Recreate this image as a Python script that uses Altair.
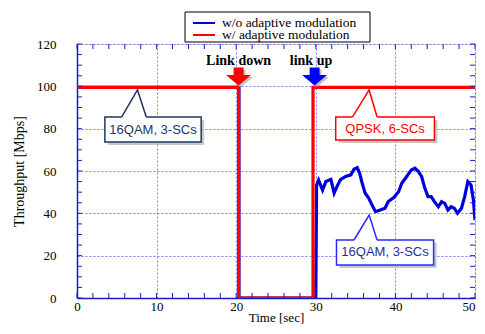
import altair as alt
import pandas as pd

# ---------------- data ----------------
# w/ adaptive modulation (red)
t_red = [0, 20.3, 20.3, 29.65, 29.65, 50]
v_red = [99.5, 99.5, 0, 0, 99.5, 99.5]

# w/o adaptive modulation (blue)
t_blue = [0, 20.35, 20.35, 30.0, 30.1, 30.35, 30.85, 31.26, 31.9, 32.3, 32.7, 33.1, 33.75, 34.4,
          34.8, 35.2, 35.5, 35.8, 36.2, 36.65, 37.05, 37.5, 38.1, 38.7, 39.1, 39.8, 40.4, 40.8,
          41.4, 42.0, 42.45, 42.9, 43.3, 43.7, 44.1, 44.5, 44.9, 45.4, 45.8, 46.2, 46.6, 47.0,
          47.4, 47.8, 48.3, 48.7, 49.1, 49.5, 49.8, 50.0]
v_blue = [99.5, 99.5, 0, 0, 53.4, 55.7, 51, 55, 56, 49.5, 53, 55.9, 57.4, 58.2,
          60.8, 61.6, 59, 54.6, 49.5, 47.2, 44, 40.8, 41.6, 42.4, 45.6, 47.5, 50.2, 54.2,
          57.3, 60.5, 61.3, 59.7, 57.3, 51.8, 47.9, 47.9, 45.5, 43.1, 45.5, 44.7, 41.6, 43.1,
          42.4, 40, 42.4, 47.9, 55, 53.4, 46.3, 36.8]

series_names = ["w/o adaptive modulation", "w/ adaptive modulation"]
series_colors = ["#0000dd", "#ff0000"]

x_major = [0, 10, 20, 30, 40, 50]
y_major = [0, 20, 40, 60, 80, 100, 120]
x_minor = list(range(0, 51, 2))
y_minor = list(range(0, 121, 5))

# callouts: label, box x/x2/y/y2, tail (base-left, tip, base-right), colours
call_labels = ["16QAM, 3-SCs", "QPSK, 6-SCs", "16QAM, 3-SCs"]
call_x1 = [3.5, 32.5, 32.6]
call_x2 = [15.6, 44.9, 44.8]
call_y1 = [73.7, 74.6, 15.6]
call_y2 = [85.5, 85.5, 27.4]
call_tx = [9.55, 38.7, 38.7]
call_ty = [79.6, 80.0, 21.5]
tail_bl = [5.6, 34.6, 34.8]
tail_tipx = [7.6, 36.7, 36.7]
tail_tipy = [98.3, 98.3, 39.2]
tail_br = [8.7, 37.7, 37.7]
call_stroke = ["#203864", "#ff0000", "#2a2aff"]
call_text = ["#203864", "#ff0000", "#1f2f9c"]

# link events
ev_labels = ["Link down", "link up"]
ev_text_t = [20.3, 29.4]
ev_arrow_t = [20.3, 29.85]
ev_colors = ["#ff0000", "#0000ff"]

W, H = 398, 254
SERIF = "Liberation Serif"
SANS = "Liberation Sans"
GRID = "#5a5aff"
FRAME = "#1a1acc"

df_red = pd.DataFrame({"t": t_red, "v": v_red, "s": series_names[1]})
df_blue = pd.DataFrame({"t": t_blue, "v": v_blue, "s": series_names[0]})

xs = alt.Scale(domain=[0, 50], nice=False, zero=False)
ys = alt.Scale(domain=[0, 120], nice=False)
cscale = alt.Scale(domain=series_names, range=series_colors)

x_axis = alt.Axis(values=x_major, format="d", grid=True, gridColor=GRID, gridDash=[2, 2],
                  gridWidth=0.8, ticks=False, tickSize=0, labelPadding=2, labelFlush=False,
                  labelAlign={"expr": "datum.value == 50 ? 'right' : 'center'"},
                  labelFont=SERIF, labelFontSize=13, labelColor="black",
                  domainColor=FRAME, domainWidth=1.5,
                  title="Time [sec]", titleFont=SERIF, titleFontSize=13,
                  titleFontWeight="normal", titleColor="black", titlePadding=-2)
y_axis = alt.Axis(values=y_major, format="d", grid=True, gridColor=GRID, gridDash=[2, 2],
                  gridWidth=0.8, ticks=False, tickSize=0, labelPadding=21, labelFlush=False,
                  labelFont=SERIF, labelFontSize=13, labelColor="black",
                  domainColor=FRAME, domainWidth=1.5,
                  title="Throughput [Mbps]", titleFont=SERIF, titleFontSize=14,
                  titleFontWeight="normal", titleColor="black", titlePadding=10)

# base layer carrying axes
base_blue = alt.Chart(df_blue).mark_line(strokeWidth=3.2, clip=True).encode(
    x=alt.X("t:Q", scale=xs, axis=x_axis),
    y=alt.Y("v:Q", scale=ys, axis=y_axis),
    color=alt.Color("s:N", scale=cscale, legend=None),
    order=alt.Order("idx:Q"),
).transform_window(idx="row_number()")

line_red = alt.Chart(df_red).mark_line(strokeWidth=3.2, clip=True).encode(
    x=alt.X("t:Q", scale=xs),
    y=alt.Y("v:Q", scale=ys),
    color=alt.Color("s:N", scale=cscale, legend=None),
    order=alt.Order("idx:Q"),
).transform_window(idx="row_number()")

# inward ticks on all four sides
dfx = pd.DataFrame({"t": x_minor})
dfy = pd.DataFrame({"v": y_minor})
tk = dict(color=FRAME, strokeWidth=1)
ticks_b = alt.Chart(dfx).mark_rule(**tk).encode(x=alt.X("t:Q", scale=xs), y=alt.value(H), y2=alt.value(H - 5))
ticks_t = alt.Chart(dfx).mark_rule(**tk).encode(x=alt.X("t:Q", scale=xs), y=alt.value(0), y2=alt.value(5))
ticks_l = alt.Chart(dfy).mark_rule(**tk).encode(y=alt.Y("v:Q", scale=ys), x=alt.value(0), x2=alt.value(5))
ticks_r = alt.Chart(dfy).mark_rule(**tk).encode(y=alt.Y("v:Q", scale=ys), x=alt.value(W), x2=alt.value(W - 5))

# callouts
df_call = pd.DataFrame({"label": call_labels, "x1": call_x1, "x2": call_x2, "y1": call_y1,
                        "y2": call_y2, "tx": call_tx, "ty": call_ty, "bl": tail_bl, "br": tail_br,
                        "stroke": call_stroke, "tcol": call_text, "k": [0, 1, 2]})
tail_rows = []
for i in range(3):
    tail_rows += [{"k": i, "o": 0, "x": tail_bl[i], "y": call_y2[i], "c": call_stroke[i]},
                  {"k": i, "o": 1, "x": tail_tipx[i], "y": tail_tipy[i], "c": call_stroke[i]},
                  {"k": i, "o": 2, "x": tail_br[i], "y": call_y2[i], "c": call_stroke[i]}]
df_tail = pd.DataFrame(tail_rows)

box_enc = dict(x=alt.X("x1:Q", scale=xs), x2="x2:Q", y=alt.Y("y1:Q", scale=ys), y2="y2:Q")
shadow = alt.Chart(df_call).mark_rect(color="#b0b0b0", opacity=0.7, xOffset=3, yOffset=3,
                                      x2Offset=3, y2Offset=3).encode(**box_enc)
box = alt.Chart(df_call).mark_rect(fill="white", strokeWidth=1.5).encode(
    stroke=alt.Stroke("stroke:N", scale=None), **box_enc)
erase = alt.Chart(df_call).mark_rule(color="white", strokeWidth=3).encode(
    x=alt.X("bl:Q", scale=xs), x2="br:Q", y=alt.Y("y2:Q", scale=ys))
tail = alt.Chart(df_tail).mark_line(strokeWidth=1.5).encode(
    x=alt.X("x:Q", scale=xs), y=alt.Y("y:Q", scale=ys),
    detail="k:N", order="o:Q", stroke=alt.Stroke("c:N", scale=None))
call_txt = alt.Chart(df_call).mark_text(font=SANS, fontSize=13, align="center", baseline="middle").encode(
    x=alt.X("tx:Q", scale=xs), y=alt.Y("ty:Q", scale=ys), text="label:N",
    color=alt.Color("tcol:N", scale=None))

# link events: arrows + labels
df_ev = pd.DataFrame({"label": ev_labels, "tt": ev_text_t, "ta": ev_arrow_t, "c": ev_colors,
                      "yt": [111.8, 111.8], "ya": [104.6, 104.6]})
ARROW = "M-0.4,-0.72L0.4,-0.72L0.4,-0.12L1,-0.12L0,0.72L-1,-0.12L-0.4,-0.12Z"
arrow_sh = alt.Chart(df_ev).mark_point(shape=ARROW, size=625, filled=True, color="#999999",
                                       opacity=0.6, xOffset=2, yOffset=2, strokeWidth=0).encode(
    x=alt.X("ta:Q", scale=xs), y=alt.Y("ya:Q", scale=ys))
arrow = alt.Chart(df_ev).mark_point(shape=ARROW, size=625, filled=True, opacity=1, strokeWidth=0).encode(
    x=alt.X("ta:Q", scale=xs), y=alt.Y("ya:Q", scale=ys), fill=alt.Fill("c:N", scale=None))
ev_txt = alt.Chart(df_ev).mark_text(font=SERIF, fontSize=14, fontWeight="bold", align="center",
                                    baseline="middle", color="black").encode(
    x=alt.X("tt:Q", scale=xs), y=alt.Y("yt:Q", scale=ys), text="label:N")

# legend box (drawn by hand above the plot)
df_leg = pd.DataFrame({"s": series_names, "yy": [-21, -9]})
one = pd.DataFrame({"a": [0]})
leg_box = alt.Chart(one).mark_rect(fill="white", stroke="black", strokeWidth=1).encode(
    x=alt.value(108), x2=alt.value(293), y=alt.value(-32), y2=alt.value(-2))
leg_sym = alt.Chart(df_leg).mark_rule(strokeWidth=2).encode(
    x=alt.value(116), x2=alt.value(138), y=alt.Y("yy:Q", scale=None),
    color=alt.Color("s:N", scale=cscale, legend=None))
leg_txt = alt.Chart(df_leg).mark_text(font=SERIF, fontSize=13.5, align="left", baseline="middle",
                                      color="black").encode(
    x=alt.value(145), y=alt.Y("yy:Q", scale=None), text="s:N")

chart = alt.layer(
    base_blue, line_red, ticks_b, ticks_t, ticks_l, ticks_r,
    shadow, box, erase, tail, call_txt,
    arrow_sh, arrow, ev_txt,
    leg_box, leg_sym, leg_txt,
).resolve_scale(color="shared").properties(
    width=W, height=H,
    autosize=alt.AutoSizeParams(type="none"),
    padding={"left": 69, "top": 36, "right": 2, "bottom": 28},
).configure_view(stroke=FRAME, strokeWidth=1.5).configure(background="white")

chart.save("out.html", embed_options={"renderer": "svg", "actions": False})
